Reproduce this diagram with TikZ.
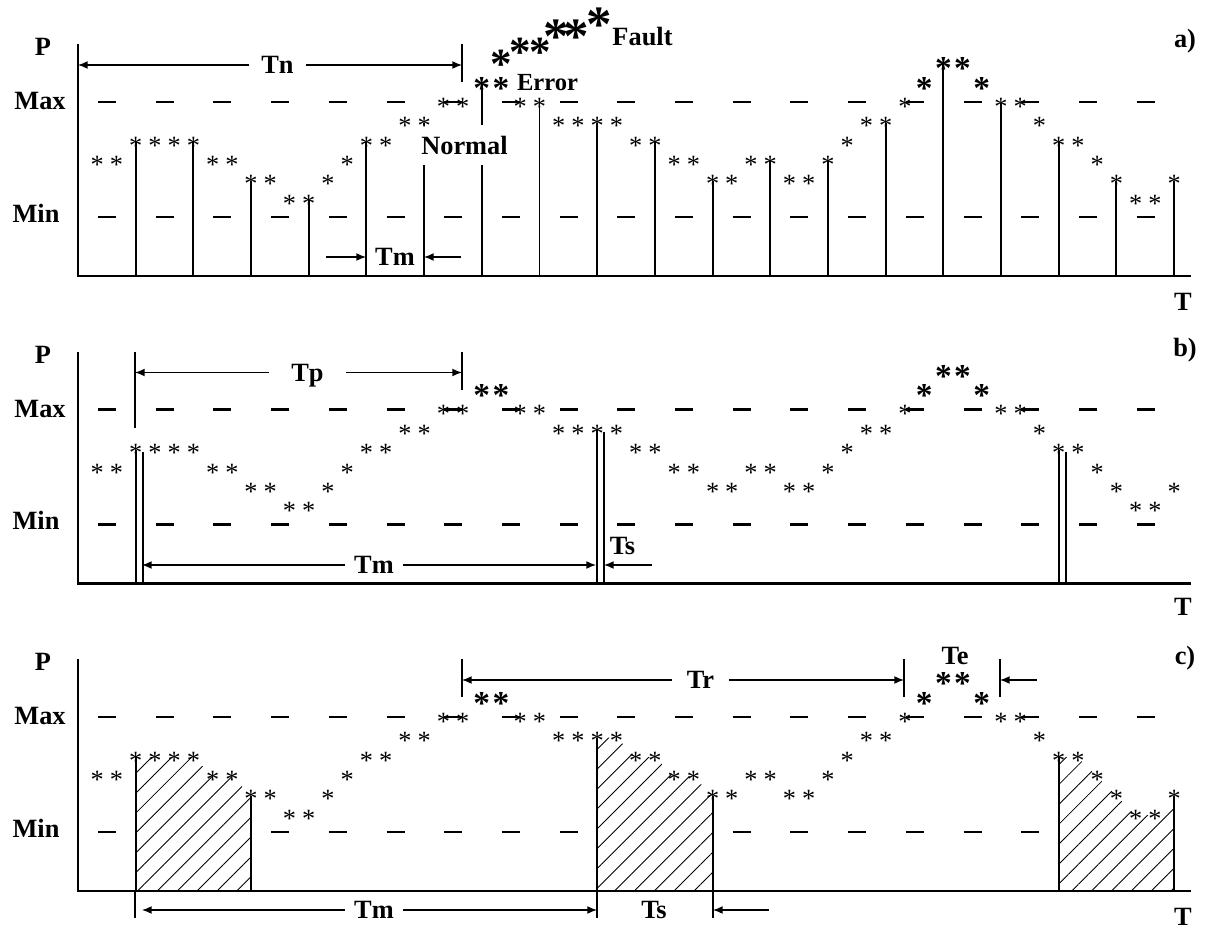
\documentclass[tikz,border=0pt]{standalone}
\usepackage{fontspec}
\setmainfont{Liberation Serif}
\usetikzlibrary{arrows.meta,calc,patterns.meta}

% sample number / level of every plotted value
\newcommand{\smallpts}{1/4,2/4,3/5,4/5,5/5,6/5,7/4,8/4,9/3,10/3,11/2,12/2,13/3,14/4,15/5,16/5,17/6,18/6,19/7,20/7,%
  23/7,24/7,25/6,26/6,27/6,28/6,29/5,30/5,31/4,32/4,33/3,34/3,35/4,36/4,37/3,38/3,39/4,40/5,41/6,42/6,43/7,%
  48/7,49/7,50/6,51/5,52/5,53/4,54/3,55/2,56/2,57/3}
\newcommand{\boldpts}{21/8,22/8,44/8,45/9,46/9,47/8}

\newcommand{\panelback}[1]{%
  \coordinate (#1-base) at (78,276);
  \node[lbl] (#1-P) at (43,47) {P};
  \node[lbl] (#1-max) at (40,101) {Max};
  \node[lbl] (#1-min) at (36,213) {Min};
  \foreach \k in {0,...,18} {
    \draw[levdash] ({98+57.7*\k},102) -- ++(18,0);
    \draw[levdash] ({98+57.7*\k},217) -- ++(18,0);
  }
  \foreach \s/\n in \smallpts {\coordinate (#1\s) at ({78+19.23*\s},{239-19.4*\n});}
  \foreach \s/\n in \boldpts {\coordinate (#1\s) at ({78+19.23*\s},{239-19.4*\n});}
}
\newcommand{\panelfront}[1]{%
  \draw[axisline] (78,44) -- (#1-base) -- (1191,276);
  \foreach \s/\n in \smallpts {\node[ast] (#1-ast\s) at (#1\s) {*};}
  \foreach \s/\n in \boldpts {\node[boldast] (#1-ast\s) at (#1\s) {*};}
}

\begin{document}
\begin{tikzpicture}[x=0.02cm,y=-0.02cm,
  lbl/.style={font=\bfseries\fontsize{15}{18}\selectfont, inner sep=0pt, text depth=0pt},
  ast/.style={font=\fontsize{15}{18}\selectfont, inner sep=0pt, yshift=-2pt},
  boldast/.style={font=\bfseries\fontsize{19}{22}\selectfont, inner sep=0pt, yshift=-2.4pt},
  axisline/.style={line width=1.2pt},
  stemline/.style={line width=1.1pt},
  levdash/.style={line width=1.3pt},
  dimbar/.style={line width=0.9pt},
  dimarrow/.style={line width=0.8pt, -{Latex[length=5.5pt,width=4.5pt]}},
  hatched/.style={preaction={fill=white}, pattern={Lines[angle=45,distance=8pt,line width=0.5pt]}}]
\useasboundingbox (0,0) rectangle (1210,929);

% a) sampling every Tm
\begin{scope}
  \panelback{a}
  \foreach \s in {3,6,...,57} \draw[stemline] (a\s |- a-base) -- (a\s);
  \node[lbl, fill=white, inner xsep=3pt, inner ysep=6.4pt] (normal) at (464.5,145) {Normal};
  \node[lbl, font=\bfseries\fontsize{14}{17}\selectfont] (error) at (547.5,82.5) {Error};
  \node[lbl] (fault) at (642.5,36) {Fault};
  \foreach \x/\y/\sz [count=\i] in {501.7/59.3/24.5,520/46.7/24.5,540/46.7/24.5,556.7/30/29,576/30/29,599.3/18.3/29}
    \node[inner sep=0pt, font=\bfseries\fontsize{\sz}{\sz}\selectfont, yshift={-0.127*\sz pt}] (fault\i) at (\x,\y) {*};
  % Tn
  \draw[dimbar] (462,44) -- (462,82);
  \coordinate (tn-l) at (78,65);
  \coordinate (tn-r) at (462,65);
  \node[lbl, inner xsep=6.8pt] (tn) at (277.5,65) {Tn};
  \draw[dimarrow] (tn) -- (tn-l);
  \draw[dimarrow] (tn) -- (tn-r);
  % Tm
  \coordinate (tma-l) at (326,257);
  \coordinate (tma-tl) at (366,257);
  \coordinate (tma-r) at (461,257);
  \coordinate (tma-tr) at (424,257);
  \node[lbl] (tm-a) at (395,257) {Tm};
  \draw[dimarrow] (tma-l) -- (tma-tl);
  \draw[dimarrow] (tma-r) -- (tma-tr);
  \node[lbl] (a-T) at (1183,302) {T};
  \node[lbl] (a-tag) at (1185,38) {a)};
  \panelfront{a}
\end{scope}

% b) short pulses
\begin{scope}[shift={(0,307.5)}]
  \panelback{b}
  \foreach \s in {3,27,51} {
    \draw[stemline] (b\s |- b-base) -- (b\s);
    \draw[stemline] ($(b\s |- b-base)+(7,0)$) -- ($(b\s)+(7,2)$);
  }
  % Tp
  \draw[dimbar] (135,44) -- (135,120);
  \draw[dimbar] (462,44) -- (462,82);
  \coordinate (tp-l) at (135,65);
  \coordinate (tp-r) at (462,65);
  \node[lbl, inner xsep=12.6pt] (tp) at (307.5,65) {Tp};
  \draw[dimarrow] (tp) -- (tp-l);
  \draw[dimarrow] (tp) -- (tp-r);
  % Tm and Ts
  \coordinate (tmb-l) at (142,257.5);
  \coordinate (tmb-r) at (596,257.5);
  \node[lbl, inner xsep=5pt] (tm-b) at (374,257.5) {Tm};
  \draw[dimarrow] (tm-b) -- (tmb-l);
  \draw[dimarrow] (tm-b) -- (tmb-r);
  \node[lbl] (ts-b) at (622.5,238.5) {Ts};
  \coordinate (tsb-r) at (652,257.5);
  \coordinate (tsb-l) at (604,257.5);
  \draw[dimarrow] (tsb-r) -- (tsb-l);
  \node[lbl] (b-T) at (1183,299.5) {T};
  \node[lbl] (b-tag) at (1185,39.5) {b)};
  \panelfront{b}
\end{scope}

% c) hatched windows
\begin{scope}[shift={(0,615)}]
  \panelback{c}
  \fill[hatched] (c3 |- c-base) -- (c3) -- (c4) -- (c5) -- (c6) -- (c7) -- (c8) -- (c9) -- (c9 |- c-base) -- cycle;
  \fill[hatched] (c27 |- c-base) -- (c27) -- (c28) -- (c29) -- (c30) -- (c31) -- (c32) -- (c33) -- (c33 |- c-base) -- cycle;
  \fill[hatched] (c51 |- c-base) -- (c51) -- (c52) -- (c53) -- (c54) -- (c55) -- (c56) -- (c57) -- (c57 |- c-base) -- cycle;
  \foreach \s in {3,9,27,33,51,57} \draw[stemline] (c\s |- c-base) -- (c\s);
  % Tr and Te
  \foreach \x in {462,904,1000} \draw[dimbar] (\x,44) -- (\x,82);
  \coordinate (tr-l) at (462,65);
  \coordinate (tr-r) at (904,65);
  \node[lbl, inner xsep=8.4pt] (tr) at (700.5,65) {Tr};
  \draw[dimarrow] (tr) -- (tr-l);
  \draw[dimarrow] (tr) -- (tr-r);
  \node[lbl] (te) at (955,41) {Te};
  \coordinate (te-r) at (1037,65);
  \coordinate (te-l) at (1000,65);
  \draw[dimarrow] (te-r) -- (te-l);
  % Tm and Ts
  \foreach \x in {135,597,713} \draw[dimbar] (\x,276) -- (\x,303);
  \coordinate (tmc-l) at (142,295);
  \coordinate (tmc-r) at (597,295);
  \node[lbl, inner xsep=5pt] (tm-c) at (374,295) {Tm};
  \draw[dimarrow] (tm-c) -- (tmc-l);
  \draw[dimarrow] (tm-c) -- (tmc-r);
  \node[lbl] (ts-c) at (654,295) {Ts};
  \coordinate (tsc-r) at (769,295);
  \coordinate (tsc-l) at (713,295);
  \draw[dimarrow] (tsc-r) -- (tsc-l);
  \node[lbl] (c-T) at (1183,302) {T};
  \node[lbl] (c-tag) at (1185,40) {c)};
  \panelfront{c}
\end{scope}
\end{tikzpicture}
\end{document}
